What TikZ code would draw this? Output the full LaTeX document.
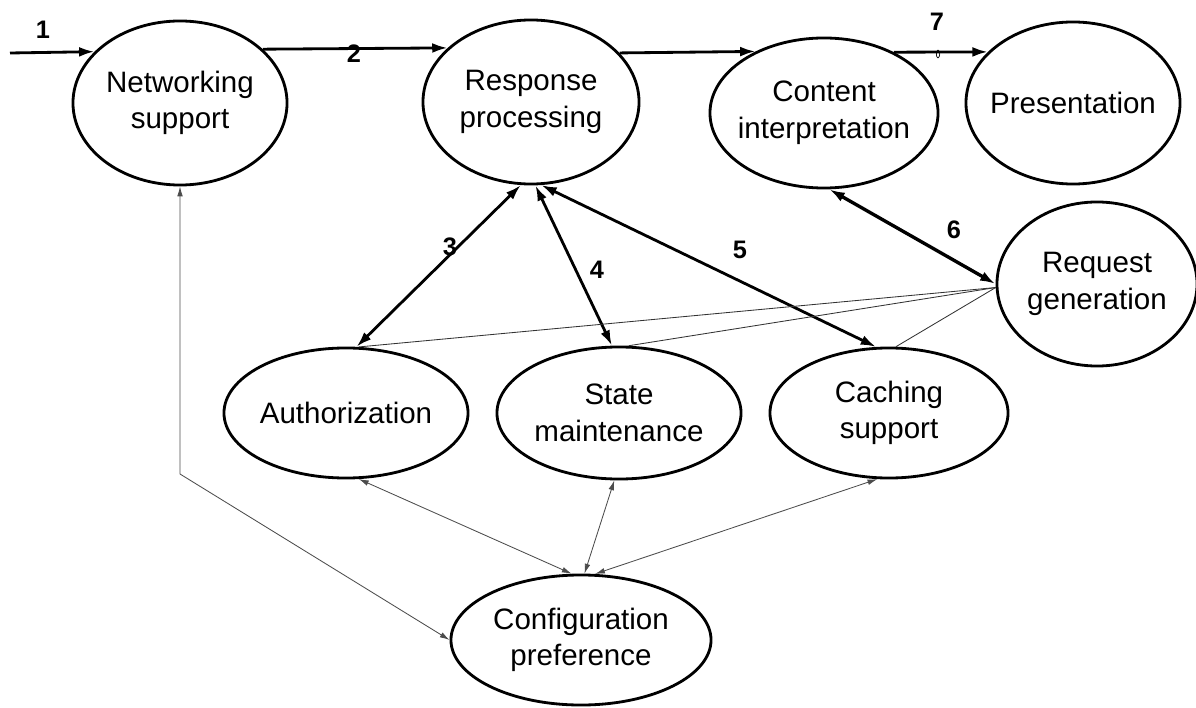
\documentclass[tikz,border=0pt]{standalone}
\usepackage{fontspec}
\setmainfont{Liberation Sans}
\usetikzlibrary{shapes.geometric,arrows.meta}
\begin{document}
\begin{tikzpicture}[x=0.025cm,y=-0.025cm,
  proc/.style={ellipse,draw,line width=2pt,inner sep=0pt},
  txt/.style={align=center,font=\fontsize{21}{26}\selectfont,inner sep=0pt},
  num/.style={font=\fontsize{18}{20}\selectfont\bfseries,inner sep=0pt},
  bigarr/.style={line width=2pt,-{Latex[length=11pt,width=7pt]}},
  dblarr/.style={line width=2pt,{Latex[length=11pt,width=7pt]}-{Latex[length=11pt,width=7pt]}},
  thinline/.style={line width=0.6pt,black!80},
  thinarr/.style={line width=0.6pt,black!70,{Latex[length=7pt,width=4pt]}-{Latex[length=7pt,width=4pt]}}]
\useasboundingbox (0,0) rectangle (1196,708);

% processes
\node[proc,minimum width=5.35cm,minimum height=4.1cm] (ns) at (180,103) {};
\node[proc,minimum width=5.4cm,minimum height=4.1cm] (rp) at (531,102) {};
\node[proc,minimum width=5.7cm,minimum height=3.75cm] (ci) at (824,113) {};
\node[proc,minimum width=5.35cm,minimum height=4.05cm] (pr) at (1073,103) {};
\node[proc,minimum width=5.0cm,minimum height=4.1cm] (rg) at (1097,284) {};
\node[proc,minimum width=6.1cm,minimum height=3.25cm] (au) at (346,413) {};
\node[proc,minimum width=6.1cm,minimum height=3.3cm] (sm) at (619,413) {};
\node[proc,minimum width=5.95cm,minimum height=3.25cm] (cs) at (889,413) {};
\node[proc,minimum width=6.5cm,minimum height=3.25cm] (cp) at (581,640) {};

\node[txt] (ns-t) at (ns) {Networking\\support};
\node[txt] (rp-t) at (rp) {Response\\processing};
\node[txt] (ci-t) at (ci) {Content\\interpretation};
\node[txt] (pr-t) at (pr) {Presentation};
\node[txt] (rg-t) at (rg) {Request\\generation};
\node[txt] (au-t) at (au) {Authorization};
\node[txt] (sm-t) at (sm) {State\\maintenance};
\node[txt] (cs-t) at (cs) {Caching\\support};
\node[txt] (cp-t) at (cp) {Configuration\\preference};

% main flow
\coordinate (in) at (10,53);
\draw[bigarr] (in) -- (ns.149.5);
\draw[bigarr] (ns.33.9) -- (rp.147.25);
\draw[bigarr] (rp.29.5) -- (ci.138.6);
\draw[bigarr] (ci.41.4) -- (pr.149.2);
\draw[line width=0.5pt] (938,54) ellipse [x radius=1.2pt, y radius=2.8pt];

% double arrows
\draw[dblarr] (rp.-97.4) -- (au.81.4);
\draw[dblarr] (rp.-87.3) -- (sm.96);
\draw[dblarr] (rp.-83.3) -- (cs.101.3);
\draw[dblarr,line width=2.4pt] (ci.-86.3) -- (rg.west);

% thin lines from request generation
\draw[thinline] (rg.182) -- (au.79);
\draw[thinline] (rg.182) -- (sm.82);
\draw[thinline] (rg.182) -- (cs.84);

% configuration links
\coordinate (bend) at (180,474);
\draw[thinarr] (ns.south) -- (ns.south |- bend) -- (cp.west);
\draw[thinarr] (au.-79) -- (cp.98.7);
\draw[thinarr] (sm.-94.3) -- (cp.87.4);
\draw[thinarr] (cs.-100.3) -- (cp.78.7);

% labels
\node[num] (l1) at (43,30) {1};
\node[num] (l2) at (354,54) {2};
\node[num] (l3) at (450,247) {3};
\node[num] (l4) at (597,270) {4};
\node[num] (l5) at (740,250) {5};
\node[num] (l6) at (954,230) {6};
\node[num] (l7) at (937,22) {7};
\end{tikzpicture}
\end{document}
